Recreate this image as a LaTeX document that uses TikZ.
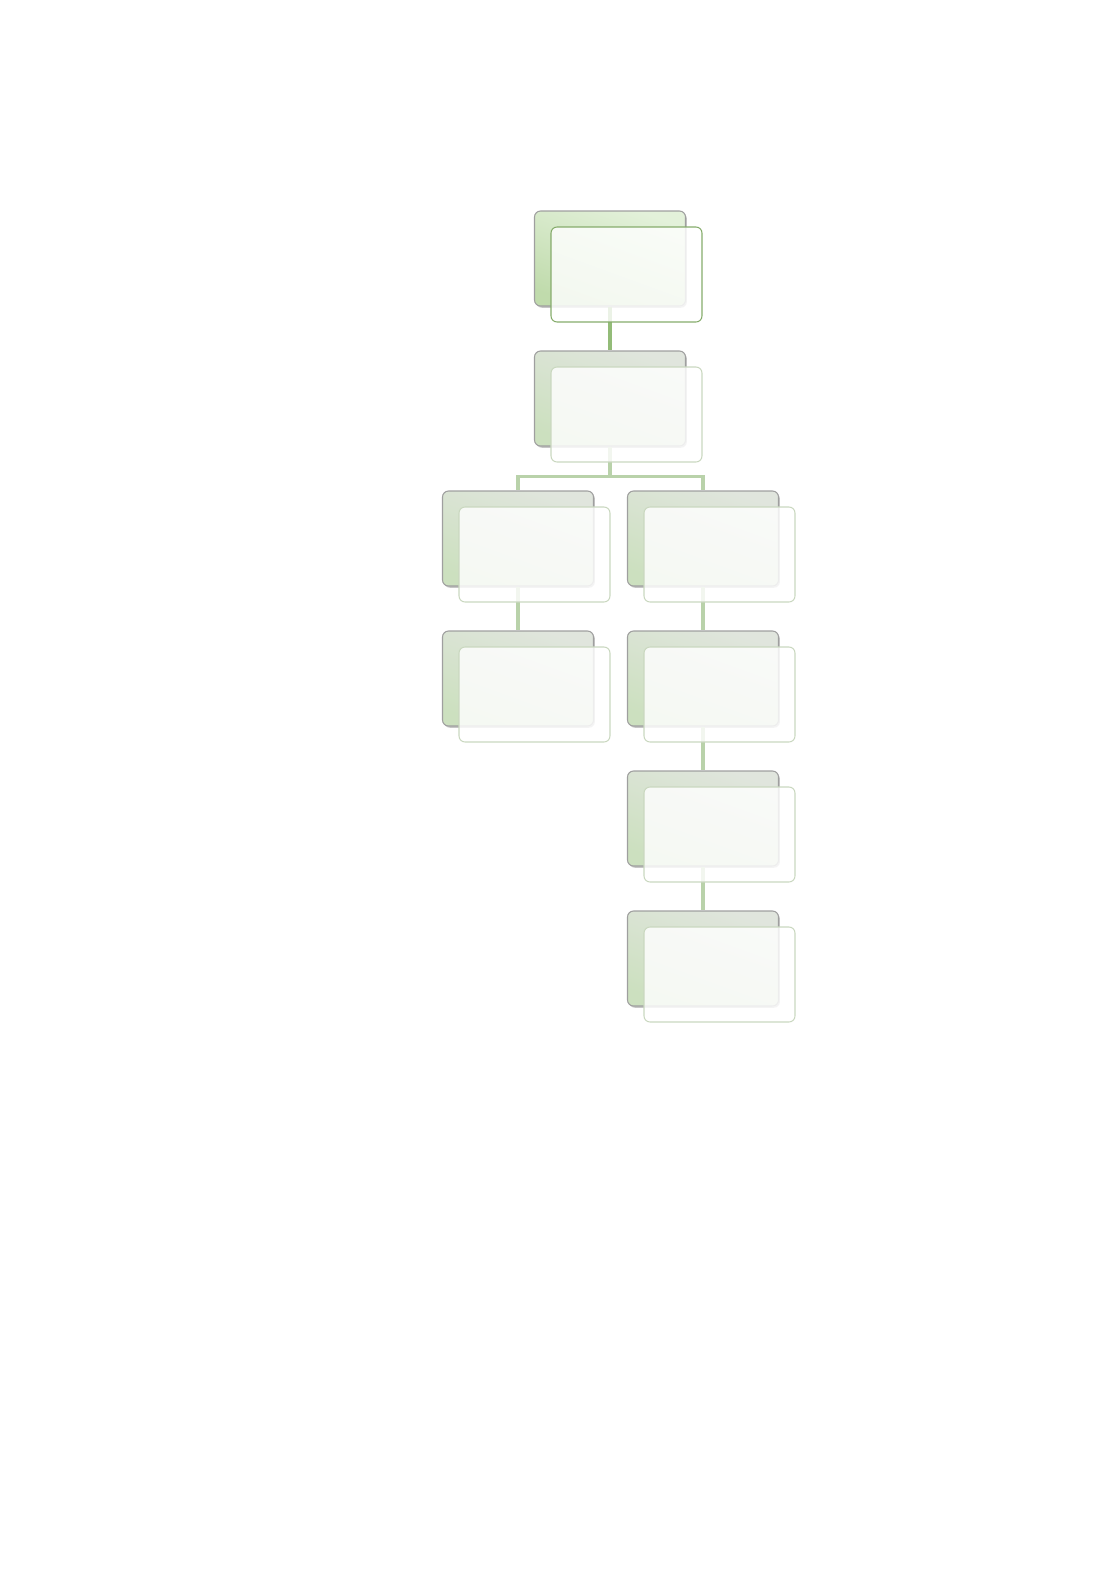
\documentclass[tikz,border=0pt]{standalone}
\usetikzlibrary{shadows}
\definecolor{topgreen}{HTML}{E3F1DA}
\definecolor{lowgreen}{HTML}{C0DBAC}
\definecolor{topgrey}{HTML}{E0E5DD}
\definecolor{lowgrey}{HTML}{CCE0BF}
\definecolor{linkdark}{HTML}{93BC78}
\definecolor{linklight}{HTML}{B9D2AA}
\definecolor{edgedark}{HTML}{86AC6C}
\definecolor{edgelight}{HTML}{CAD8C0}
\begin{document}
\begin{tikzpicture}[x=0.02cm, y=-0.02cm,
  backbox/.style={rounded corners=0.12cm, minimum width=3.02cm, minimum height=1.9cm,
    draw=gray!75, line width=0.6pt, top color=topgrey, bottom color=lowgrey, shading angle=-20,
    drop shadow={opacity=0.45, shadow xshift=0.8pt, shadow yshift=-1pt}},
  headbox/.style={backbox, top color=topgreen, bottom color=lowgreen, shading angle=-20},
  frontbox/.style={rounded corners=0.12cm, minimum width=3.02cm, minimum height=1.9cm,
    draw=edgelight, line width=0.6pt, fill=white, fill opacity=0.82, xshift=0.33cm, yshift=-0.32cm},
  headfront/.style={frontbox, draw=edgedark},
  link/.style={line width=1.8pt, draw=linklight},
  headlink/.style={link, draw=linkdark}]
  \useasboundingbox (0,0) rectangle (1094,1572);
  \node[headbox] (ceo-b) at (610,258.5) {};
  \node[backbox] (mgr-b) at (610,398.5) {};
  \node[backbox] (left1-b) at (518,538.5) {};
  \node[backbox] (right1-b) at (703,538.5) {};
  \node[backbox] (left2-b) at (518,678.5) {};
  \node[backbox] (right2-b) at (703,678.5) {};
  \node[backbox] (right3-b) at (703,818.5) {};
  \node[backbox] (right4-b) at (703,958.5) {};
  \draw[headlink] (ceo-b.south) -- (mgr-b.north);
  \draw[link] (mgr-b.south) -- ++(0,30) -| (left1-b.north);
  \draw[link] (mgr-b.south) -- ++(0,30) -| (right1-b.north);
  \draw[link] (left1-b.south) -- (left2-b.north);
  \draw[link] (right1-b.south) -- (right2-b.north);
  \draw[link] (right2-b.south) -- (right3-b.north);
  \draw[link] (right3-b.south) -- (right4-b.north);
  \node[headfront] (ceo) at (ceo-b.center) {};
  \node[frontbox] (mgr) at (mgr-b.center) {};
  \node[frontbox] (left1) at (left1-b.center) {};
  \node[frontbox] (right1) at (right1-b.center) {};
  \node[frontbox] (left2) at (left2-b.center) {};
  \node[frontbox] (right2) at (right2-b.center) {};
  \node[frontbox] (right3) at (right3-b.center) {};
  \node[frontbox] (right4) at (right4-b.center) {};
\end{tikzpicture}
\end{document}
